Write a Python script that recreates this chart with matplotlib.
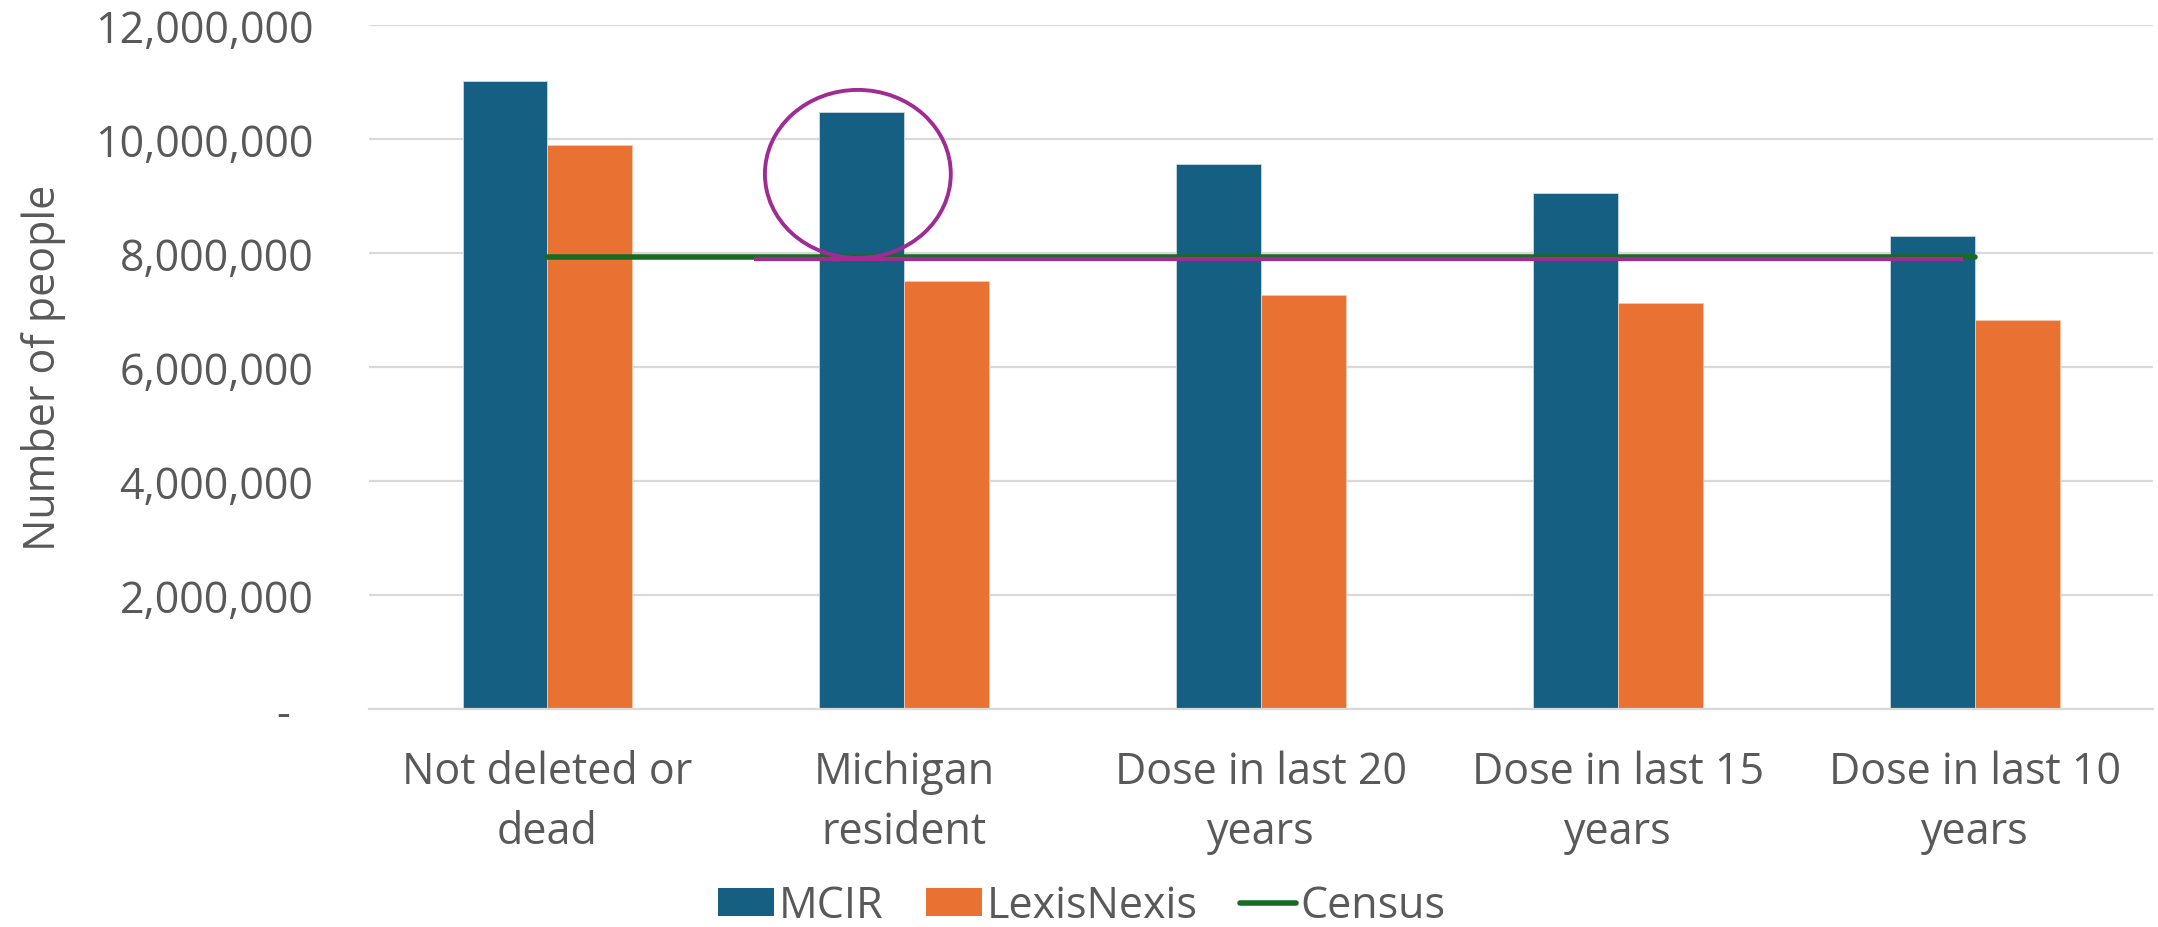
import matplotlib
matplotlib.use("Agg")
import matplotlib.pyplot as plt
from matplotlib.patches import Ellipse, Patch
from matplotlib.lines import Line2D
import numpy as np

categories = ["Not deleted or\ndead", "Michigan\nresident", "Dose in last 20\nyears",
              "Dose in last 15\nyears", "Dose in last 10\nyears"]
mcir = [11020000, 10470000, 9560000, 9060000, 8290000]
lexisnexis = [9900000, 7510000, 7270000, 7120000, 6820000]
census = [7930000, 7930000, 7930000, 7930000, 7930000]
yticks = [0, 2000000, 4000000, 6000000, 8000000, 10000000, 12000000]
ytick_labels = ["-  ", "2,000,000", "4,000,000", "6,000,000", "8,000,000", "10,000,000", "12,000,000"]

C_MCIR = "#156082"
C_LEX = "#E97132"
C_CEN = "#196B24"
C_PUR = "#A02B93"
TXT = "#595959"

plt.rcParams['font.family'] = ['Open Sans', 'DejaVu Sans']

fig = plt.figure(figsize=(21.58, 9.28), dpi=100)
ax = fig.add_axes([0.171, 0.2349, 0.8267, 0.7371])

x = np.arange(len(categories))
w = 0.238
ax.bar(x - w / 2, mcir, w, color=C_MCIR, edgecolor="#c9d9e3", linewidth=0.6, zorder=2)
ax.bar(x + w / 2, lexisnexis, w, color=C_LEX, edgecolor="#f6c8ae", linewidth=0.6, zorder=2)
ax.plot(x, census, color=C_CEN, linewidth=4.0, solid_capstyle="round", zorder=3)

# hand-drawn annotation: purple line and circle
ax.plot([0.578, 3.968], [7895000, 7895000], color=C_PUR, linewidth=3.0, zorder=4,
        solid_capstyle="butt")
ax.add_patch(Ellipse((0.870, 9386000), 0.521, 2950000, fill=False,
                     edgecolor=C_PUR, linewidth=2.8, zorder=5))

ax.set_xlim(-0.5, len(categories) - 0.5)
ax.set_ylim(0, 12000000)
ax.set_yticks(yticks)
ax.set_yticklabels(ytick_labels)
ax.set_xticks(x)
ax.set_xticklabels(categories, linespacing=1.47)
ax.tick_params(axis="y", length=0, pad=40, labelsize=31, labelcolor=TXT)
ax.tick_params(axis="x", length=0, pad=29, labelsize=31, labelcolor=TXT)
ax.grid(axis="y", color="#d9d9d9", linewidth=1.6, zorder=0)
ax.set_axisbelow(True)
for s in ["top", "right", "left"]:
    ax.spines[s].set_visible(False)
ax.spines["bottom"].set_color("#d9d9d9")
ax.spines["bottom"].set_linewidth(1.6)

ax.set_ylabel("Number of people", fontsize=31, color=TXT)
ax.yaxis.set_label_coords(-0.17, 0.5)

handles = [Patch(facecolor=C_MCIR, edgecolor="none"),
           Patch(facecolor=C_LEX, edgecolor="none"),
           Line2D([0], [0], color=C_CEN, linewidth=4.0, solid_capstyle="round")]
leg = fig.legend(handles, ["MCIR", "LexisNexis", "Census"], loc="center",
                 bbox_to_anchor=(1082 / 2158, 1 - 907 / 928), ncol=3, frameon=False,
                 fontsize=31, handlelength=1.3, handleheight=0.65, handletextpad=0.1,
                 columnspacing=1.0, labelcolor=TXT, borderpad=0.0, borderaxespad=0.0)

fig.savefig("out.png", dpi=100, facecolor="white")
